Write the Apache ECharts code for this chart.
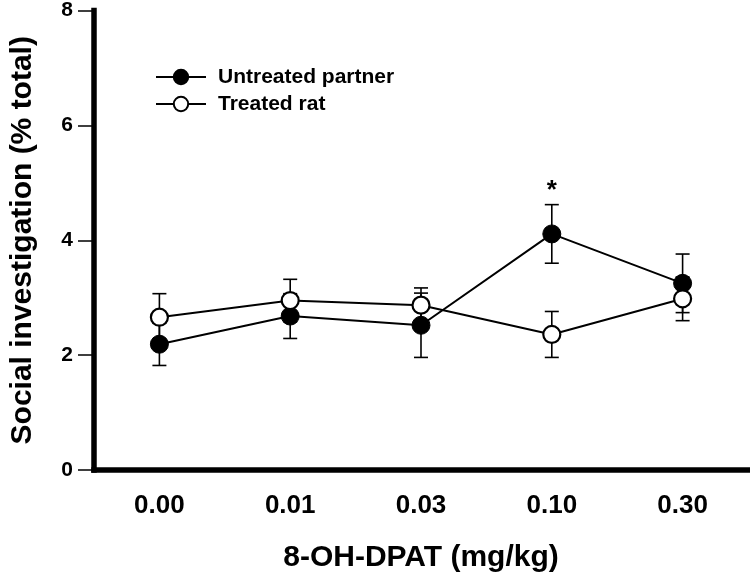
<!DOCTYPE html>
<html>
<head>
<meta charset="utf-8">
<script src="https://cdn.jsdelivr.net/npm/echarts@6/dist/echarts.min.js"></script>
<style>
html,body{margin:0;padding:0;background:#fff;}
#chart{width:750px;height:578px;}
</style>
</head>
<body>
<div id="chart"></div>
<script>
var categories = ['0.00', '0.01', '0.03', '0.10', '0.30'];
var untreatedMean = [2.19, 2.68, 2.52, 4.11, 3.25];
var untreatedSem = [0.37, 0.39, 0.56, 0.51, 0.51];
var treatedMean = [2.66, 2.95, 2.87, 2.36, 2.98];
var treatedSem = [0.41, 0.37, 0.30, 0.40, 0.38];
var sigCategory = ['0.10'];
var sigValue = [4.86];
var sigText = ['*'];
var yTicks = [0, 2, 4, 6, 8];

var FONT = "'Liberation Sans', Arial, Helvetica, sans-serif";

function errData(means, sems) {
  return categories.map(function (c, i) { return [i, means[i] - sems[i], means[i] + sems[i]]; });
}
function renderErr(params, api) {
  var x = api.value(0);
  var lo = api.coord([x, api.value(1)]);
  var hi = api.coord([x, api.value(2)]);
  var hw = 7;
  var st = { stroke: '#000', lineWidth: 1.6 };
  return {
    type: 'group',
    children: [
      { type: 'line', shape: { x1: lo[0], y1: lo[1], x2: hi[0], y2: hi[1] }, style: st },
      { type: 'line', shape: { x1: lo[0] - hw, y1: lo[1], x2: lo[0] + hw, y2: lo[1] }, style: st },
      { type: 'line', shape: { x1: hi[0] - hw, y1: hi[1], x2: hi[0] + hw, y2: hi[1] }, style: st }
    ]
  };
}

var chart = echarts.init(document.getElementById('chart'), null, { renderer: 'canvas' });
chart.setOption({
  animation: false,
  backgroundColor: '#fff',
  grid: { left: 83, right: 2, top: 9.5, bottom: 104, containLabel: false },
  legend: {
    orient: 'vertical',
    left: 150,
    top: 61.5,
    itemWidth: 50,
    itemHeight: 18,
    itemGap: 6,
    data: ['Untreated partner', 'Treated rat'],
    textStyle: { fontFamily: FONT, fontWeight: 'bold', fontSize: 21, color: '#000', padding: [0, 0, 0, 7] }
  },
  xAxis: {
    type: 'category',
    data: categories,
    boundaryGap: true,
    axisLine: { lineStyle: { color: '#000', width: 5.5, cap: 'square' } },
    axisTick: { alignWithLabel: true, length: 16, lineStyle: { color: '#000', width: 1.5 } },
    axisLabel: { fontFamily: FONT, fontWeight: 'bold', fontSize: 26, color: '#000', margin: 23 },
    name: '8-OH-DPAT (mg/kg)',
    nameLocation: 'middle',
    nameGap: 73,
    nameTextStyle: { fontFamily: FONT, fontWeight: 'bold', fontSize: 30, color: '#000' },
    splitLine: { show: false }
  },
  yAxis: {
    type: 'value',
    min: yTicks[0],
    max: yTicks[yTicks.length - 1],
    interval: 2,
    axisLine: { show: true, lineStyle: { color: '#000', width: 5.5, cap: 'square' } },
    axisTick: { show: true, length: 16, lineStyle: { color: '#000', width: 1.5 } },
    axisLabel: { fontFamily: FONT, fontWeight: 'bold', fontSize: 21, color: '#000', margin: 21 },
    splitLine: { show: false },
    name: 'Social investigation (% total)',
    nameLocation: 'middle',
    nameGap: 56,
    nameTextStyle: { fontFamily: FONT, fontWeight: 'bold', fontSize: 30, color: '#000' }
  },
  series: [
    {
      type: 'custom', name: 'errU', renderItem: renderErr, data: errData(untreatedMean, untreatedSem), z: 1, silent: true
    },
    {
      type: 'line', name: 'Untreated partner', data: untreatedMean, z: 2,
      symbol: 'circle', symbolSize: 18, showAllSymbol: true,
      lineStyle: { color: '#000', width: 2 },
      itemStyle: { color: '#000', borderColor: '#000', borderWidth: 1 }
    },
    {
      type: 'custom', name: 'errT', renderItem: renderErr, data: errData(treatedMean, treatedSem), z: 3, silent: true
    },
    {
      type: 'line', name: 'Treated rat', data: treatedMean, z: 4,
      symbol: 'circle', symbolSize: 17, showAllSymbol: true,
      lineStyle: { color: '#000', width: 2 },
      itemStyle: { color: '#fff', borderColor: '#000', borderWidth: 2.2 }
    },
    {
      type: 'custom', name: 'sig', z: 5, silent: true,
      data: sigCategory.map(function (c, i) { return [categories.indexOf(c), sigValue[i], sigText[i]]; }),
      renderItem: function (params, api) {
        var p = api.coord([api.value(0), api.value(1)]);
        return {
          type: 'text',
          style: {
            x: p[0], y: p[1], text: sigText[params.dataIndex],
            fontFamily: FONT, fontWeight: 'bold', fontSize: 26, fill: '#000',
            textAlign: 'center', textVerticalAlign: 'middle'
          }
        };
      }
    }
  ]
});
</script>
</body>
</html>
